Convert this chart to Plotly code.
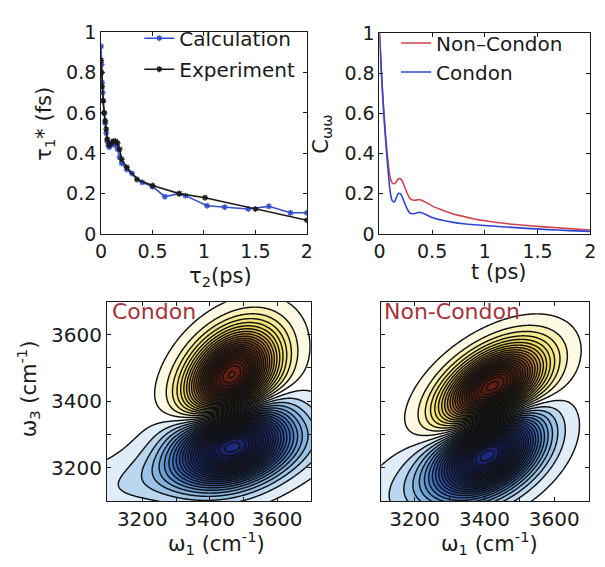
import numpy as np
import plotly.graph_objects as go

# ---------------- tau1* versus waiting time tau2 ----------------
calc_tau2 = [0.0, 0.005, 0.01, 0.015, 0.02, 0.03, 0.04, 0.05, 0.06, 0.07, 0.08, 0.10, 0.12,
             0.14, 0.16, 0.18, 0.20, 0.25, 0.30, 0.40, 0.50, 0.62, 0.76, 0.82, 1.03, 1.20,
             1.43, 1.63, 1.84, 2.0]
calc_tau1 = [0.93, 0.84, 0.75, 0.70, 0.66, 0.60, 0.55, 0.50, 0.46, 0.44, 0.43, 0.44, 0.45,
             0.44, 0.42, 0.38, 0.35, 0.32, 0.30, 0.256, 0.235, 0.185, 0.20, 0.19, 0.14, 0.133,
             0.124, 0.137, 0.105, 0.105]
exp_tau2 = [0.0, 0.005, 0.01, 0.02, 0.03, 0.04, 0.05, 0.06, 0.08, 0.10, 0.12, 0.14, 0.16,
            0.18, 0.20, 0.25, 0.35, 0.50, 0.76, 1.01, 1.50, 2.0]
exp_tau1 = [0.86, 0.80, 0.73, 0.66, 0.60, 0.56, 0.52, 0.47, 0.44, 0.45, 0.46, 0.46, 0.45,
            0.42, 0.37, 0.33, 0.27, 0.24, 0.20, 0.18, 0.124, 0.068]

# ---------------- frequency-frequency correlation function ----------------
t_ps = [0.0, 0.01, 0.02, 0.03, 0.04, 0.05, 0.06, 0.07, 0.08, 0.09, 0.10, 0.12, 0.14, 0.16,
        0.18, 0.20, 0.22, 0.25, 0.28, 0.30, 0.33, 0.36, 0.38, 0.40, 0.45, 0.50, 0.60, 0.70,
        0.80, 0.90, 1.0, 1.2, 1.4, 1.6, 1.8, 2.0]
c_noncondon = [1.0, 0.90, 0.79, 0.70, 0.62, 0.55, 0.48, 0.42, 0.37, 0.32, 0.285, 0.255, 0.25,
               0.26, 0.275, 0.275, 0.26, 0.22, 0.185, 0.172, 0.168, 0.17, 0.171, 0.168, 0.155,
               0.14, 0.118, 0.10, 0.087, 0.075, 0.066, 0.052, 0.042, 0.034, 0.027, 0.02]
c_condon = [1.0, 0.90, 0.79, 0.70, 0.61, 0.53, 0.46, 0.39, 0.33, 0.27, 0.22, 0.168, 0.16,
            0.18, 0.202, 0.20, 0.18, 0.14, 0.11, 0.102, 0.101, 0.106, 0.108, 0.106, 0.095,
            0.082, 0.068, 0.058, 0.051, 0.046, 0.042, 0.035, 0.028, 0.022, 0.017, 0.013]

# ---------------- 2D IR peaks: w1 centre, w3 centre, sigma1, sigma3, correlation, amplitude
condon_peaks = [
    [3464, 3475, 84, 88, 0.35, 1.0],
    [3465, 3272, 105, 76, 0.25, -1.0],
    [3400, 3210, 260, 85, 0.70, -0.10],
]
noncondon_peaks = [
    [3422, 3440, 92, 80, 0.50, 1.0],
    [3412, 3244, 92, 80, 0.40, -1.0],
    [3300, 3170, 140, 90, 0.50, -0.12],
]

FONT = "DejaVu Sans"
INK = "#1a1a1a"


def spectrum(peaks, w):
    W1, W3 = np.meshgrid(w, w)
    z = np.zeros_like(W1, dtype=float)
    for c1, c3, s1, s3, rho, amp in peaks:
        a = (W1 - c1) / s1
        b = (W3 - c3) / s3
        q = (a * a - 2 * rho * a * b + b * b) / (1 - rho ** 2)
        z += amp * np.exp(-q / 2)
    return z / np.abs(z).max()


w = np.linspace(3080, 3720, 257)

spec_scale = [
    [0.00, "#1a2a80"], [0.05, "#121a50"], [0.15, "#16246a"], [0.25, "#203c90"],
    [0.30, "#2a50a8"], [0.35, "#3d6fc0"], [0.40, "#6a9fd6"], [0.425, "#88b8e2"],
    [0.45, "#a8cbea"], [0.475, "#d8e9f6"], [0.50, "#ffffff"],
    [0.525, "#fdf8dc"], [0.55, "#f7ee9a"], [0.60, "#f2e060"], [0.65, "#e0b848"],
    [0.70, "#c08030"], [0.75, "#8a4a20"], [0.85, "#4a2010"], [0.95, "#5a1a10"],
    [1.00, "#8a2a1a"],
]

fig = go.Figure()

fig.add_trace(go.Scatter(
    x=calc_tau2, y=calc_tau1, name="Calculation", mode="lines+markers",
    line=dict(color="#3550cc", width=1.6),
    marker=dict(symbol="asterisk-open", size=5, line=dict(color="#3550cc", width=1.3)),
    xaxis="x", yaxis="y", legend="legend", legendgroup="a"))
fig.add_trace(go.Scatter(
    x=exp_tau2, y=exp_tau1, name="Experiment", mode="lines+markers",
    line=dict(color=INK, width=1.6),
    marker=dict(symbol="asterisk-open", size=5, line=dict(color=INK, width=1.3)),
    xaxis="x", yaxis="y", legend="legend", legendgroup="b"))

fig.add_trace(go.Scatter(
    x=t_ps, y=c_noncondon, name="Non\u2013Condon", mode="lines", line_shape="spline",
    line=dict(color="#d2454a", width=1.6), xaxis="x2", yaxis="y2", legend="legend2"))
fig.add_trace(go.Scatter(
    x=t_ps, y=c_condon, name="Condon", mode="lines", line_shape="spline",
    line=dict(color="#2f45d6", width=1.6), xaxis="x2", yaxis="y2", legend="legend2"))

levels = dict(start=-0.98, end=0.98, size=0.04, coloring="fill")
for peaks, xa, ya in [(condon_peaks, "x3", "y3"), (noncondon_peaks, "x4", "y4")]:
    fig.add_trace(go.Contour(
        x=w, y=w, z=spectrum(peaks, w), xaxis=xa, yaxis=ya,
        colorscale=spec_scale, zmin=-1, zmax=1, contours=levels,
        line=dict(color="#111111", width=1.45, smoothing=1.0),
        showscale=False, hoverinfo="skip", showlegend=False))

W, H = 605, 567


def xd(a, b):
    return [a / W, b / W]


def yd(top, bottom):
    return [1 - bottom / H, 1 - top / H]


axis_style = dict(showline=True, linecolor=INK, linewidth=1, mirror="ticks",
                  ticks="inside", ticklen=4, tickcolor=INK, showgrid=False,
                  zeroline=False, tickfont=dict(family=FONT, size=19, color=INK))
big_tick = dict(family=FONT, size=20, color=INK)
w_ticks = [3200, 3300, 3400, 3500, 3600]
w_text = ["3200", "", "3400", "", "3600"]

fig.update_layout(
    width=W, height=H, margin=dict(l=0, r=0, t=0, b=0),
    paper_bgcolor="white", plot_bgcolor="white",
    font=dict(family=FONT, color=INK),
    xaxis=dict(domain=xd(97, 307), range=[0, 2], tickvals=[0, 0.5, 1, 1.5, 2],
               anchor="y", **axis_style),
    yaxis=dict(domain=yd(22, 232), range=[0, 1], tickvals=[0, 0.2, 0.4, 0.6, 0.8, 1],
               anchor="x", **axis_style),
    xaxis2=dict(domain=xd(381, 596), range=[0, 2], tickvals=[0, 0.5, 1, 1.5, 2],
                anchor="y2", **axis_style),
    yaxis2=dict(domain=yd(23, 232), range=[0, 1], tickvals=[0, 0.2, 0.4, 0.6, 0.8, 1],
                anchor="x2", **axis_style),
    xaxis3=dict(domain=xd(103, 311), range=[3095, 3700], tickvals=w_ticks, ticktext=w_text,
                anchor="y3", **{**axis_style, "tickfont": big_tick}),
    yaxis3=dict(domain=yd(303, 510), range=[3100, 3697], tickvals=w_ticks, ticktext=w_text,
                anchor="x3", **{**axis_style, "tickfont": big_tick}),
    xaxis4=dict(domain=xd(383, 595), range=[3105, 3700], tickvals=w_ticks, ticktext=w_text,
                anchor="y4", **{**axis_style, "tickfont": big_tick}),
    yaxis4=dict(domain=yd(303, 510), range=[3100, 3697], tickvals=w_ticks,
                showticklabels=False, anchor="x4", **axis_style),
    legend=dict(x=136 / W, y=1 - 8 / H, xanchor="left", yanchor="top",
                bgcolor="rgba(0,0,0,0)", font=dict(family=FONT, size=20, color=INK),
                tracegroupgap=2, itemwidth=30),
    legend2=dict(x=398 / W, y=1 - 13 / H, xanchor="left", yanchor="top",
                 bgcolor="rgba(0,0,0,0)", font=dict(family=FONT, size=20, color=INK),
                 itemwidth=30),
)

title_font = dict(family=FONT, size=21, color=INK)
annotations = [
    dict(text="\u03c4<sub>2</sub>(ps)", x=219, y=277, rot=0),
    dict(text="t (ps)", x=503, y=272, rot=0),
    dict(text="\u03c4<sub>1</sub>* (fs)", x=40, y=117, rot=-90),
    dict(text="C<sub>\u03c9\u03c9</sub>", x=322, y=128, rot=-90),
    dict(text="\u03c9<sub>3</sub> (cm<sup>-1</sup>)", x=22, y=393, rot=-90),
    dict(text="\u03c9<sub>1</sub> (cm<sup>-1</sup>)", x=215, y=553, rot=0),
    dict(text="\u03c9<sub>1</sub> (cm<sup>-1</sup>)", x=493, y=553, rot=0),
]
for a in annotations:
    fig.add_annotation(text=a["text"], x=a["x"] / W, y=1 - a["y"] / H, xref="paper",
                       yref="paper", showarrow=False, textangle=a["rot"],
                       xanchor="center", yanchor="middle", font=title_font)

label_font = dict(family=FONT, size=22, color="#a8323a")
fig.add_annotation(text="Condon", x=106 / W, y=1 - 313 / H, xref="paper", yref="paper",
                   showarrow=False, xanchor="left", yanchor="middle", font=label_font)
fig.add_annotation(text="Non-Condon", x=384 / W, y=1 - 313 / H, xref="paper", yref="paper",
                   showarrow=False, xanchor="left", yanchor="middle", font=label_font)

fig.write_html("out.html")
